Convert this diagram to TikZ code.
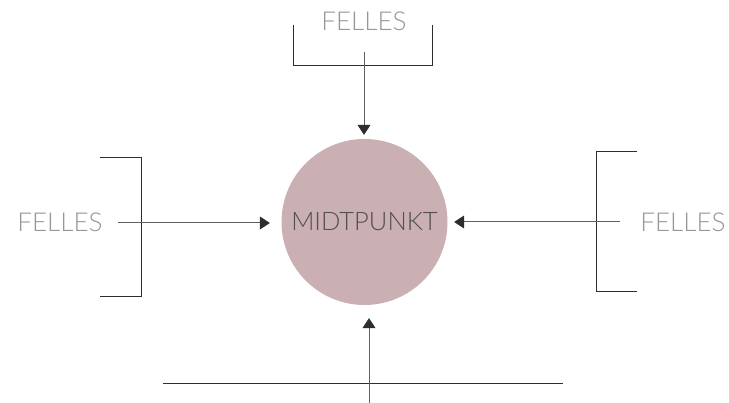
\documentclass[tikz,border=0pt]{standalone}
\usepackage{fontspec}
\setmainfont{Lato}[UprightFont=* Light]
\usetikzlibrary{arrows.meta}

\definecolor{pinkgray}{RGB}{202,176,178}
\definecolor{felgray}{RGB}{150,150,150}
\definecolor{midgray}{RGB}{85,80,82}
\definecolor{linegray}{RGB}{95,95,95}
\definecolor{bracketgray}{RGB}{45,45,45}

\begin{document}
\begin{tikzpicture}[x=1pt,y=1pt,yscale=-1,xscale=1,
  felles/.style={inner sep=0pt, font=\fontsize{26}{26}\selectfont, text=felgray},
  pil/.style={draw=linegray, line width=1, -{Triangle[width=13,length=10,color=bracketgray]}},
  klamme/.style={draw=bracketgray, line width=1}]
\useasboundingbox (0,0) rectangle (729,403);

%Circle
\node (mid) [circle, fill=pinkgray, minimum size=166, inner sep=0pt, font=\fontsize{25.5}{26}\selectfont, text=midgray] at (364.5,222) {MIDTPUNKT};

% Text Node
\node (ftop) [felles] at (364,21) {FELLES};
% Text Node
\node (fleft) [felles] at (60,222) {FELLES};
% Text Node
\node (fright) [felles] at (683,222) {FELLES};

%Brackets
\draw [klamme] (293,25) -- (293,66) -- (432,66) -- (432,25);
\draw [klamme] (100,158) -- (141,158) -- (141,297) -- (100,297);
\draw [klamme] (637,152) -- (596,152) -- (596,292) -- (637,292);
\draw [klamme] (163,384) -- (563,384);

%Arrows
\coordinate (topin) at (364,52);
\coordinate (leftin) at (118,223);
\coordinate (rightin) at (620,222);
\coordinate (botin) at (369,403);
\draw [pil, shorten >=4] (topin) -- (topin |- mid.north);
\draw [pil, shorten >=11.5] (leftin) -- (leftin -| mid.west);
\draw [pil, shorten >=6.5] (rightin) -- (rightin -| mid.east);
\draw [pil, shorten >=13] (botin) -- (botin |- mid.south);

\end{tikzpicture}
\end{document}
